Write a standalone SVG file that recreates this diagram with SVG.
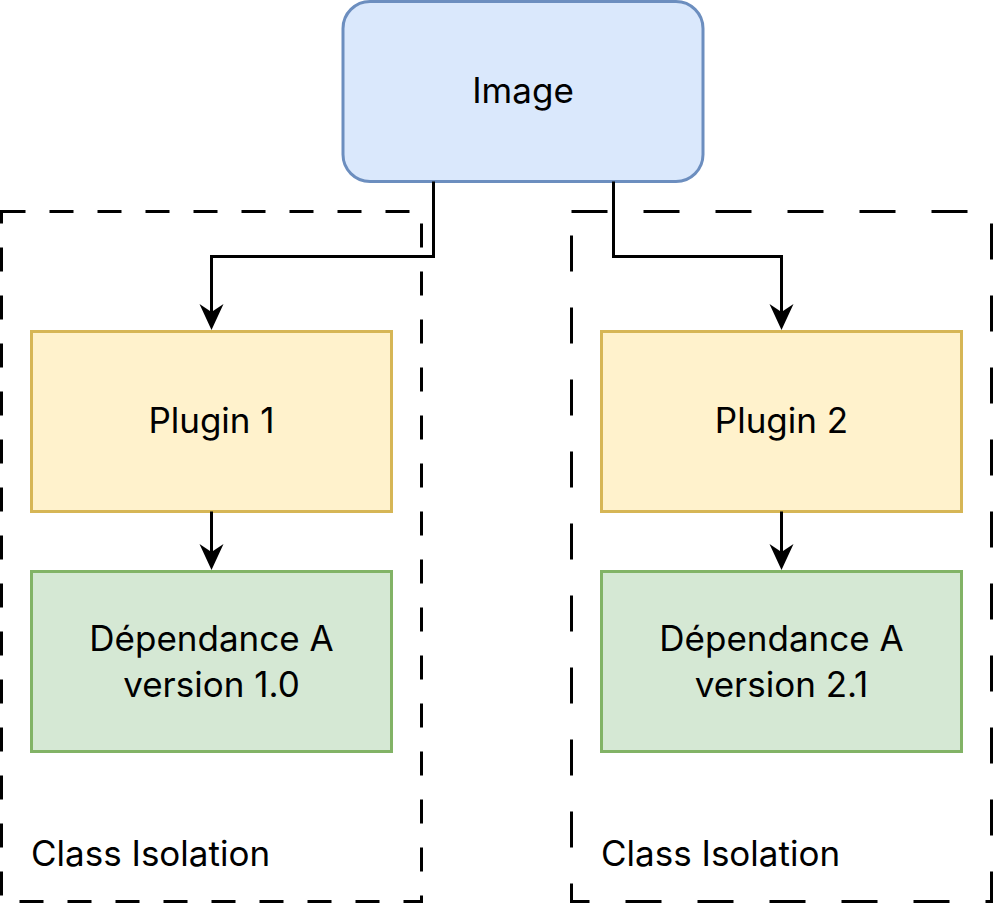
<svg xmlns="http://www.w3.org/2000/svg" width="993" height="906" viewBox="0 0 993 906">
<style>
.t{font-family:Inter,"Noto Sans","Liberation Sans",sans-serif;font-size:35px;fill:#000;text-anchor:middle}
.l{text-anchor:start}
.c{fill:none;stroke:#000;stroke-width:3}
.iso{fill:none;stroke:#000;stroke-width:3}
</style>
<rect width="993" height="906" fill="#fff"/>
<g id="iso1">
<rect x="1.5" y="211.5" width="420" height="690" class="iso" stroke-dasharray="24 24"/>
<text class="t l" x="31" y="866">Class Isolation</text>
</g>
<g id="iso2">
<rect x="571.5" y="211.5" width="420" height="690" class="iso" stroke-dasharray="36 36"/>
<text class="t l" x="601" y="866">Class Isolation</text>
</g>
<g id="image">
<rect x="343" y="1.5" width="360" height="180" rx="27" fill="#dae8fc" stroke="#6c8ebf" stroke-width="3"/>
<text class="t" x="523" y="103">Image</text>
</g>
<g id="plugin1">
<rect x="31.5" y="331.5" width="360" height="180" fill="#fff2cc" stroke="#d6b656" stroke-width="3"/>
<text class="t" x="211.5" y="433">Plugin 1</text>
</g>
<g id="plugin2">
<rect x="601.5" y="331.5" width="360" height="180" fill="#fff2cc" stroke="#d6b656" stroke-width="3"/>
<text class="t" x="781.5" y="433">Plugin 2</text>
</g>
<g id="dep1">
<rect x="31.5" y="571.5" width="360" height="180" fill="#d5e8d4" stroke="#82b366" stroke-width="3"/>
<text class="t" x="211.5" y="651">Dépendance A</text>
<text class="t" x="211.5" y="697">version 1.0</text>
</g>
<g id="dep2">
<rect x="601.5" y="571.5" width="360" height="180" fill="#d5e8d4" stroke="#82b366" stroke-width="3"/>
<text class="t" x="781.5" y="651">Dépendance A</text>
<text class="t" x="781.5" y="697">version 2.1</text>
</g>
<g id="connectors">
<path class="c" d="M433.5,181.5 V256.5 H211.5 V312"/>
<path class="c" d="M613.5,181.5 V256.5 H781.5 V312"/>
<path class="c" d="M211.5,511.5 V552"/>
<path class="c" d="M781.5,511.5 V552"/>
<g fill="#000">
<path d="M211.5,330 L199.5,304 L211.5,312 L223.5,304 Z"/>
<path d="M781.5,330 L769.5,304 L781.5,312 L793.5,304 Z"/>
<path d="M211.5,570 L199.5,544 L211.5,552 L223.5,544 Z"/>
<path d="M781.5,570 L769.5,544 L781.5,552 L793.5,544 Z"/>
</g>
</g>
</svg>
